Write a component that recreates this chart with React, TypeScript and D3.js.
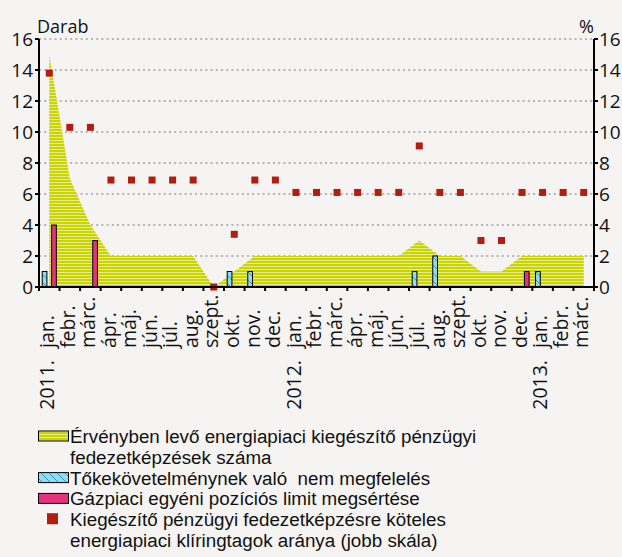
import React from 'react';
import * as d3 from 'd3';

const months = [
  'jan.', 'febr.', 'márc.', 'ápr.', 'máj.', 'jún.', 'júl.', 'aug.', 'szept.', 'okt.', 'nov.', 'dec.',
  'jan.', 'febr.', 'márc.', 'ápr.', 'máj.', 'jún.', 'júl.', 'aug.', 'szept.', 'okt.', 'nov.', 'dec.',
  'jan.', 'febr.', 'márc.',
];
const years = ['2011.', '', '', '', '', '', '', '', '', '', '', '', '2012.', '', '', '', '', '', '', '', '', '', '', '', '2013.', '', ''];

// Érvényben levő energiapiaci kiegészítő pénzügyi fedezetképzések száma
const hedges = [15, 7, 4, 2, 2, 2, 2, 2, 0, 1, 2, 2, 2, 2, 2, 2, 2, 2, 3, 2, 2, 1, 1, 2, 2, 2, 2];
// Tőkekövetelménynek való nem megfelelés
const capitalBreach = [1, 0, 0, 0, 0, 0, 0, 0, 0, 1, 1, 0, 0, 0, 0, 0, 0, 0, 1, 2, 0, 0, 0, 0, 1, 0, 0];
// Gázpiaci egyéni pozíciós limit megsértése
const gasLimit = [4, 0, 3, 0, 0, 0, 0, 0, 0, 0, 0, 0, 0, 0, 0, 0, 0, 0, 0, 0, 0, 0, 0, 1, 0, 0, 0];
// klíringtagok aránya (%), jobb skála
const memberShare = [13.8, 10.3, 10.3, 6.9, 6.9, 6.9, 6.9, 6.9, 0, 3.4, 6.9, 6.9, 6.1, 6.1, 6.1, 6.1, 6.1, 6.1, 9.1, 6.1, 6.1, 3.0, 3.0, 6.1, 6.1, 6.1, 6.1];

const yTicks = [0, 2, 4, 6, 8, 10, 12, 14, 16];

const legendItems = [
  { key: 'area', lines: ['Érvényben levő energiapiaci kiegészítő pénzügyi', 'fedezetképzések száma'] },
  { key: 'cap', lines: ['Tőkekövetelménynek való  nem megfelelés'] },
  { key: 'gas', lines: ['Gázpiaci egyéni pozíciós limit megsértése'] },
  { key: 'share', lines: ['Kiegészítő pénzügyi fedezetképzésre köteles', 'energiapiaci klíringtagok aránya (jobb skála)'] },
];

const W = 622;
const H = 557;
const left = 39;
const right = 594;
const top = 39;
const bottom = 287;
const font = 'Open Sans, sans-serif';
const legendFont = 'Liberation Sans, Arial, sans-serif';

export default function App() {
  const idx = months.map((_, i) => i);
  const x = d3.scaleBand<number>().domain(idx).range([left, right]);
  const sub = d3.scaleBand<string>().domain(['cap', 'gas']).range([0, x.bandwidth()]).paddingInner(0.5).paddingOuter(0.34);
  const y = d3.scaleLinear().domain([0, 16]).range([bottom, top]);
  const yR = d3.scaleLinear().domain([0, 16]).range([bottom, top]);
  const cx = (i: number) => x(i)! + x.bandwidth() / 2;

  const area = d3.area<number>()
    .x((_, i) => cx(i))
    .y0(y(0))
    .y1(d => y(d));

  const tickBoundaries = d3.range(months.length + 1).map(i => left + i * x.step());

  let legendLine = 0;
  const lineH = 20.8;
  const legendTop = 443;

  return (
    <svg width={W} height={H} style={{ position: 'absolute', left: 0, top: 0 }}>
      <defs>
        <pattern id="stripes" width="6" height="3" patternUnits="userSpaceOnUse">
          <rect width="6" height="3" fill="#e8eb95" />
          <rect width="6" height="2" fill="#c9d400" />
        </pattern>
        <pattern id="diag" width="8" height="8" patternUnits="userSpaceOnUse">
          <rect width="8" height="8" fill="#93dcf0" />
          <path d="M-2,-2 L10,10" stroke="#2b9cc4" strokeWidth="1" />
        </pattern>
      </defs>
      <rect width={W} height={H} fill="#f5f4f2" />

      {/* grid */}
      {yTicks.filter(t => t > 0).map(t => (
        <line key={t} x1={left} x2={right} y1={y(t)} y2={y(t)} stroke="#a0a0a0" strokeWidth={1.3} strokeDasharray="2,3.2" />
      ))}

      <path d={area(hedges) || ''} fill="url(#stripes)" />

      {capitalBreach.map((v, i) => v > 0 && (
        <rect key={'c' + i} x={x(i)! + sub('cap')!} y={y(v)} width={sub.bandwidth()} height={y(0) - y(v)}
          fill="url(#diag)" stroke="#000" strokeWidth={1} />
      ))}
      {gasLimit.map((v, i) => v > 0 && (
        <rect key={'g' + i} x={x(i)! + sub('gas')!} y={y(v)} width={sub.bandwidth()} height={y(0) - y(v)}
          fill="#e5327d" stroke="#000" strokeWidth={1} />
      ))}

      {memberShare.map((v, i) => (
        <rect key={'s' + i} x={cx(i) - 3.5} y={yR(v) - 3.5} width={7} height={7} fill="#b31d0d" />
      ))}

      {/* axes */}
      <line x1={left} x2={left} y1={top} y2={bottom + 1} stroke="#000" strokeWidth={2} />
      <line x1={right} x2={right} y1={top} y2={bottom + 1} stroke="#000" strokeWidth={2} />
      <line x1={left} x2={right} y1={bottom} y2={bottom} stroke="#000" strokeWidth={2} />
      {yTicks.map(t => (
        <g key={'yt' + t}>
          <line x1={left - 4} x2={left} y1={y(t)} y2={y(t)} stroke="#000" strokeWidth={2} />
          <text x={33} y={y(t)} dy="0.36em" textAnchor="end" fontFamily={font} fontSize={19} fill="#111">{t}</text>
          <line x1={right} x2={right + 4} y1={yR(t)} y2={yR(t)} stroke="#000" strokeWidth={2} />
          <text x={599} y={yR(t)} dy="0.36em" textAnchor="start" fontFamily={font} fontSize={19} fill="#111">{t}</text>
        </g>
      ))}
      {tickBoundaries.map((b, i) => (
        <line key={'xt' + i} x1={b} x2={b} y1={bottom} y2={bottom + 4} stroke="#000" strokeWidth={2} />
      ))}
      <text x={37} y={33} fontFamily={font} fontSize={18} fill="#111">Darab</text>
      <text x={594} y={33} textAnchor="end" fontFamily={font} fontSize={18} fill="#111">%</text>

      {/* x labels */}
      {months.map((m, i) => (
        <text key={'m' + i} transform={`translate(${cx(i)},348) rotate(-90)`} dy="0.24em" textAnchor="start"
          fontFamily={font} fontSize={19.5} fill="#111">{m}</text>
      ))}
      {years.map((yr, i) => yr && (
        <text key={'y' + i} transform={`translate(${cx(i)},360) rotate(-90)`} dy="0.24em" textAnchor="end"
          fontFamily={font} fontSize={19.5} fill="#111">{yr}</text>
      ))}

      {/* legend */}
      {legendItems.map(item => {
        const row = legendLine;
        legendLine += item.lines.length;
        const by = legendTop + row * lineH;
        return (
          <g key={item.key}>
            {item.key === 'area' && <rect x={38.5} y={by - 12} width={30} height={10} fill="url(#stripes)" stroke="#000" strokeWidth={1} />}
            {item.key === 'cap' && <rect x={38.5} y={by - 12} width={30} height={10} fill="url(#diag)" stroke="#000" strokeWidth={1} />}
            {item.key === 'gas' && <rect x={38.5} y={by - 12} width={30} height={10} fill="#e5327d" stroke="#000" strokeWidth={1} />}
            {item.key === 'share' && <rect x={47} y={by - 13} width={11} height={11} fill="#b31d0d" />}
            {item.lines.map((l, k) => (
              <text key={k} x={70} y={by + k * lineH} fontFamily={legendFont} fontSize={18.8} fill="#111" style={{ whiteSpace: 'pre' }}>{l}</text>
            ))}
          </g>
        );
      })}
    </svg>
  );
}
